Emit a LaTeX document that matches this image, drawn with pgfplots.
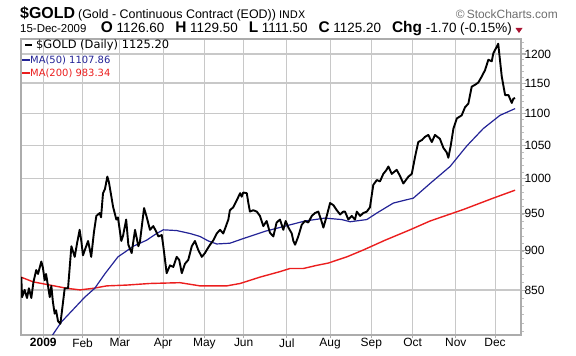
\documentclass[border=0pt]{standalone}
\usepackage{pgfplots}
\pgfplotsset{compat=1.18}
\usepackage{fontspec}
\setmainfont{Liberation Sans}
\newfontfamily\verd{DejaVu Sans}
\definecolor{gridc}{RGB}{200,200,200}
\definecolor{framec}{RGB}{172,172,172}
\definecolor{minc}{RGB}{190,190,190}
\definecolor{manavy}{RGB}{35,35,150}
\definecolor{mared}{RGB}{235,30,30}
\definecolor{scgray}{RGB}{110,110,110}
\definecolor{tri}{RGB}{170,20,50}
\begin{document}
\begin{tikzpicture}
\useasboundingbox (0,0) rectangle (576bp,356bp);
% background grid and frame (decoration, drawn beneath the axis)
\foreach \gx in {43.29,82.58,119.90,163.11,204.36,243.65,286.86,330.07,371.32,412.57,455.78,495.07}{
  \draw[gridc, line width=1.1bp] (\gx bp,17.5bp) -- (\gx bp,317bp);
  \draw[framec, line width=1.1bp] (\gx bp,17.5bp) -- (\gx bp,21bp);
}
\foreach \gy in {65.93,105.06,142.07,177.18,210.60,242.43,272.86,301.98}{
  \draw[gridc, line width=1.1bp] (21bp,\gy bp) -- (521bp,\gy bp);
  \draw[framec, line width=1.1bp] (521bp,\gy bp) -- (525.5bp,\gy bp);
}
\foreach \v in {800,810,...,1220}{
  \pgfmathsetmacro{\yy}{21+296*ln(\v/796)/0.4324}
  \draw[minc, line width=0.8bp] (521bp,\yy bp) -- (523.5bp,\yy bp);
}
\draw[framec, line width=1.2bp] (21bp,21bp) rectangle (521bp,317bp);
\begin{axis}[
 at={(21bp,21bp)}, anchor=south west, scale only axis,
 width=500bp, height=296bp,
 xmin=-11.35, xmax=243.2,
 ymode=log, ymin=796, ymax=1226.6,
 xtick={0,20,39,61,82,102,124,146,167,188,210,230},
 xticklabels={\textbf{2009},Feb,Mar,Apr,May,Jun,Jul,Aug,Sep,Oct,Nov,Dec},
 ytick={850,900,950,1000,1050,1100,1150,1200},
 yticklabels={850,900,950,1000,1050,1100,1150,1200},
 yticklabel pos=right,
 xmajorgrids=true, ymajorgrids=true,
 major grid style={draw=gridc, line width=1.1bp},
 axis line style={draw=framec, line width=1.2bp},
 major tick length=0bp,
 ticklabel style={font=\fontsize{12}{12}\selectfont},
 /pgf/number format/assume math mode=true,
]
\addplot[mared, line width=1.4bp] table {
-11.35 866
-5.1 860
3.4 856
11.9 852
18.7 850
25.5 852
32.3 855
42.5 856
54.3 858
69.6 859
79.8 855
93.4 855
100.2 858
110.3 866
120.5 873
125.6 877
132.4 877
139.2 881
145.1 884
154.5 892
162.9 901
174 914
186.7 928
196.9 940
213.9 956
229.1 972
240.2 983.34
};
\addplot[manavy, line width=1.2bp] table {
1.5 785
9.2 811
16 828
21.1 841
26.2 852
31.3 870
38 892
43.1 901
45.8 906
52.6 914
57.7 923
61.1 928
67.9 927
74.7 923
79.8 919
84 913
88.3 909
95 910
102.7 917
112.9 926
123.1 933
133.2 940
143.4 944
151.9 942
156.2 939
164.7 942
169.8 951
178.2 965
188.4 972
196.9 993
207.1 1018
215.6 1049
224 1076
232.5 1097
240.2 1107.86
};
\addplot[black, line width=1.9bp, line join=round] table {
-11.2 866
-10.8 841
-9.5 850
-8.3 840
-7.3 852
-6.1 840
-5 860
-3.6 875
-2.7 870
-1 886
-0.2 878
0.7 862
1.4 870
2.4 855
3.3 841
4.1 855
4.9 835
5.8 821
6.5 825
7.5 812
8.7 809
9.7 828
10.9 852
12.6 852
14.3 906
16 892
17.2 910
18.5 928
19.4 912
20.2 894
21.7 905
22.8 913
23.8 900
24.4 892
25.8 925
27 947
28.7 951
29.4 945
30.4 979
31.4 985
32.6 1003
33.4 995
34.6 975
35.5 960
37.2 942
38 945
39.7 913
40.6 920
42.2 942
43.3 908
45 897
46.7 928
48.4 906
49.2 912
51.3 958
52.6 946
54.3 928
56 933
57.4 926
58.6 919
60.3 921
61.1 906
62.8 871
64.5 881
66.2 879
67.9 892
69.2 888
70.5 871
72.1 883
73.8 888
75.6 906
77.2 913
78.9 901
80.7 892
82.3 897
83.2 901
84.9 908
86.6 914
88.3 923
90 928
91.6 923
93 933
94.2 942
95 955
96.7 959
98.5 969
100.2 979
101 974
101.8 980
103.6 979
104.4 965
105.2 953
106.9 955
108.7 953
110.3 947
112 933
113.7 940
115.4 924
117.1 919
118.8 938
120.5 942
122.2 928
123.4 940
124.8 931
126.5 923
127.3 913
128.2 908
129.8 919
131.6 935
133.2 940
134.9 938
136.7 947
138.3 951
140 953
141.4 942
142.6 931
144.3 947
146 965
147.7 962
149.4 955
151.1 949
152.7 953
153.6 953
155.3 942
157 947
158.7 942
159.6 953
161.3 947
162.9 951
164.7 953
166.3 959
168 991
169.8 998
171.4 996
173.1 1007
174.5 1012
175.7 1018
177.4 1007
179.9 1013
181.6 1004
183.3 993
185.9 1003
187.6 1007
189.3 1033
190.9 1055
192.7 1058
194.3 1063
196 1066
197.8 1055
199.4 1066
201.9 1060
203.7 1046
205.4 1039
206.2 1031
207.4 1049
208.8 1076
210.5 1092
213 1097
214.7 1110
216.4 1116
218.1 1144
219.8 1147
221.5 1151
223.2 1161
224.9 1172
226.6 1190
228.3 1187
229.1 1201
230.9 1213
231.6 1218
233.4 1161
235.1 1130
236.8 1130
238.5 1117
239.3 1124
240.2 1125
};
\end{axis}
% title lines
\node[anchor=base west, inner sep=0] at (20bp,337.7bp) {{\fontsize{16}{16}\selectfont\bfseries \$GOLD}\hspace{3bp}{\fontsize{12.5}{12.5}\selectfont (Gold - Continuous Contract (EOD))\hspace{3bp}{\verd\fontsize{10.5}{10.5}\selectfont INDX}}};
\node[anchor=base east, inner sep=0, text=scgray] at (558bp,337.7bp) {\fontsize{12}{12}\selectfont \textcopyright\,StockCharts.com};
\node[anchor=base west, inner sep=0] at (20bp,323bp) {\fontsize{11.5}{11.5}\selectfont 15-Dec-2009};
\node[anchor=base east, inner sep=0] at (512bp,323bp) {\fontsize{13.5}{13.5}\selectfont {\fontsize{15.5}{15.5}\selectfont\bfseries O} 1126.60\hspace{11bp}{\fontsize{15.5}{15.5}\selectfont\bfseries H} 1129.50\hspace{11bp}{\fontsize{15.5}{15.5}\selectfont\bfseries L} 1111.50\hspace{11bp}{\fontsize{15.5}{15.5}\selectfont\bfseries C} 1125.20\hspace{11bp}{\fontsize{15.5}{15.5}\selectfont\bfseries Chg} -1.70 (-0.15\%)};
\fill[tri] (515.5bp,328bp) -- (522.5bp,328bp) -- (519bp,323bp) -- cycle;
% legend
\draw[black, line width=2bp] (25bp,311bp) -- (32bp,311bp);
\node[anchor=west, inner sep=0] at (36bp,311bp) {\verd\fontsize{11.5}{11.5}\selectfont \$GOLD (Daily) 1125.20};
\draw[manavy, line width=2bp] (22bp,296bp) -- (30bp,296bp);
\node[anchor=west, inner sep=0, text=manavy] at (30bp,296bp) {\verd\fontsize{10}{10}\selectfont MA(50) 1107.86};
\draw[mared, line width=2bp] (22bp,283bp) -- (30bp,283bp);
\node[anchor=west, inner sep=0, text=mared] at (30bp,283bp) {\verd\fontsize{10}{10}\selectfont MA(200) 983.34};
\end{tikzpicture}
\end{document}
